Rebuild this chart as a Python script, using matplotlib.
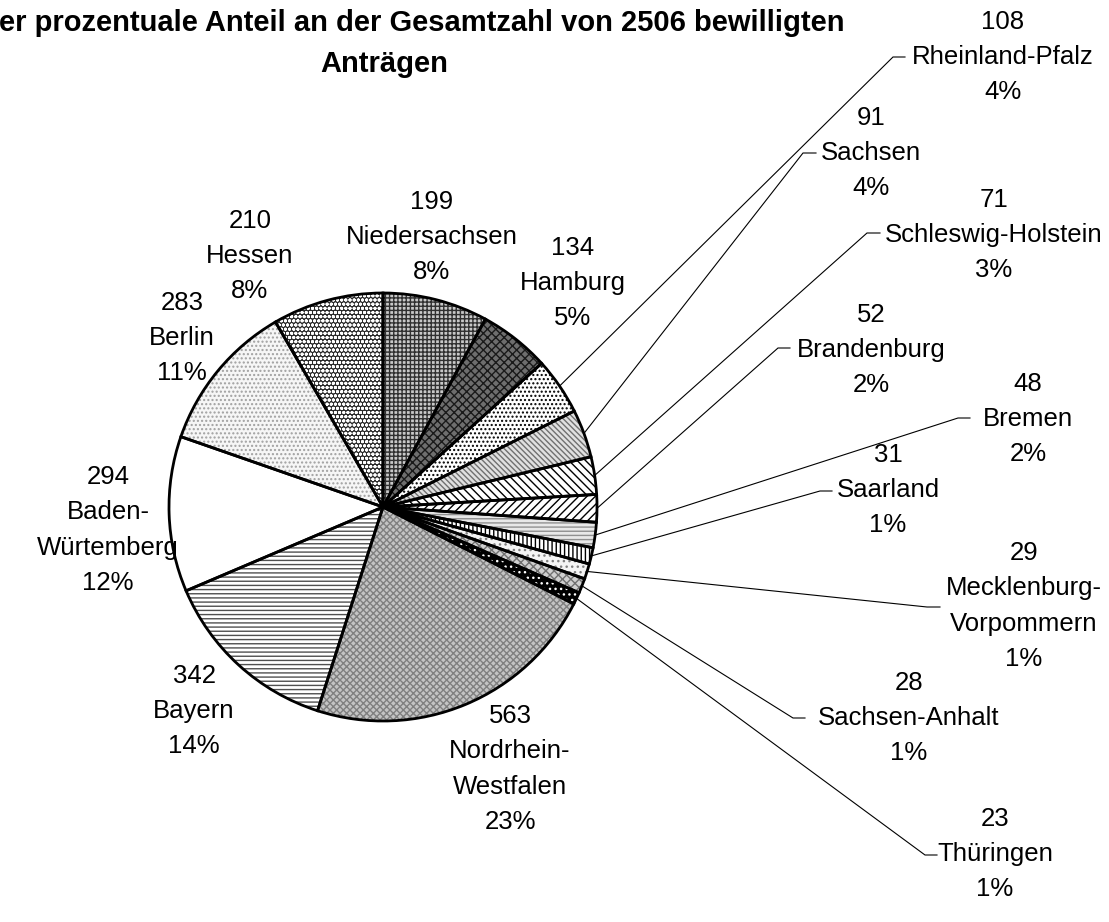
import matplotlib
matplotlib.use("Agg")
import matplotlib.pyplot as plt
import numpy as np

plt.rcParams['font.family'] = ['Liberation Sans', 'DejaVu Sans']

# ---- data (clockwise from 12 o'clock) ----
states = ["Niedersachsen", "Hamburg", "Rheinland-Pfalz", "Sachsen", "Schleswig-Holstein",
          "Brandenburg", "Bremen", "Saarland", "Mecklenburg-\nVorpommern", "Sachsen-Anhalt",
          "Thüringen", "Nordrhein-\nWestfalen", "Bayern", "Baden-\nWürtemberg", "Berlin", "Hessen"]
counts = [199, 134, 108, 91, 71, 52, 48, 31, 29, 28, 23, 563, 342, 294, 283, 210]
percents = [8, 5, 4, 4, 3, 2, 2, 1, 1, 1, 1, 23, 14, 12, 11, 8]
title_line2 = "er prozentuale Anteil an der Gesamtzahl von 2506 bewilligten"
title_line3 = "Anträgen"

# ---- styles: (face, hatch, hatch colour) ----
styles = [
    ("#c8c8c8", "++++", "#303030"),   # Niedersachsen
    ("#6e6e6e", "xxxx", "#1a1a1a"),   # Hamburg
    ("#ffffff", "....", "#000000"),   # Rheinland-Pfalz
    ("#e0e0e0", "\\\\\\\\\\\\", "#707070"),  # Sachsen
    ("#ffffff", "\\\\\\\\", "#000000"),  # Schleswig-Holstein
    ("#ffffff", "////", "#000000"),   # Brandenburg
    ("#e8e8e8", "----", "#909090"),   # Bremen
    ("#ffffff", "||||", "#000000"),   # Saarland
    ("#f4f4f4", "...", "#808080"),    # Mecklenburg-Vorpommern
    ("#d0d0d0", "xxxx", "#707070"),   # Sachsen-Anhalt
    ("#000000", "...", "#ffffff"),    # Thüringen
    ("#c4c4c4", "xxxxx", "#808080"),  # Nordrhein-Westfalen
    ("#ffffff", "----", "#505050"),   # Bayern
    ("#ffffff", "", "#ffffff"),       # Baden-Würtemberg
    ("#f6f6f6", "....", "#a0a0a0"),   # Berlin
    ("#2a2a2a", "oooo", "#ffffff"),   # Hessen
]

W, H = 1109, 922
fig = plt.figure(figsize=(W / 100, H / 100), dpi=100)
ax = fig.add_axes([0, 0, 1, 1])

cx, cy, R = 383, H - 507, 214

# fill layer with hatches
wedges, _ = ax.pie(counts, radius=R, center=(cx, cy), startangle=90, counterclock=False,
                   wedgeprops=dict(linewidth=0))
for w, (fc, hatch, hc) in zip(wedges, styles):
    w.set_facecolor(fc)
    w.set_edgecolor(hc)
    w.set_hatch(hatch)
    w.set_linewidth(0)

# outline layer
ax.pie(counts, radius=R, center=(cx, cy), startangle=90, counterclock=False,
       wedgeprops=dict(facecolor="none", edgecolor="black", linewidth=2.0))

ax.set_xlim(0, W)
ax.set_ylim(0, H)
ax.set_aspect("auto")
ax.axis("off")

# ---- label layout (image pixel coords: x centre, y centre) ----
label_pos = {
    0: (432, 237), 1: (573, 283), 2: (1003, 57), 3: (871, 153), 4: (994, 235),
    5: (871, 350), 6: (1028, 419), 7: (888, 490), 8: (1024, 606), 9: (909, 718),
    10: (995, 854), 11: (510, 769), 12: (194, 711), 13: (108, 530), 14: (182, 338),
    15: (250, 256),
}
# leader lines: (kink x, kink y, end x)
leaders = {
    2: (893, 57, 905), 3: (803, 153, 816), 4: (867, 233, 880), 5: (778, 348, 790),
    6: (958, 418, 970), 7: (820, 491, 832), 8: (927, 607, 940), 9: (793, 718, 805),
    10: (925, 855, 937),
}

total = sum(counts)
cum = np.cumsum([0] + counts)
for i, (name, c, p) in enumerate(zip(states, counts, percents)):
    x, y = label_pos[i]
    ax.text(x, H - y, f"{c}\n{name}\n{p}%", ha="center", va="center",
            multialignment="center", fontsize=18.5, linespacing=1.58)
    if i in leaders:
        kx, ky, ex = leaders[i]
        mid = (cum[i] + cum[i + 1]) / 2 / total * 2 * np.pi
        sx = cx + R * np.sin(mid)
        sy = cy + R * np.cos(mid)
        ax.plot([sx, kx, ex], [sy, H - ky, H - ky], color="black", linewidth=0.8,
                solid_joinstyle="miter")

# title (partly cut off at the top-left, as in the reference)
ax.text(-1, H - 31, title_line2, ha="left", va="baseline", fontsize=21, fontweight="bold")
ax.text(384, H - 72, title_line3, ha="center", va="baseline", fontsize=21, fontweight="bold")

fig.savefig("out.png", dpi=100)
